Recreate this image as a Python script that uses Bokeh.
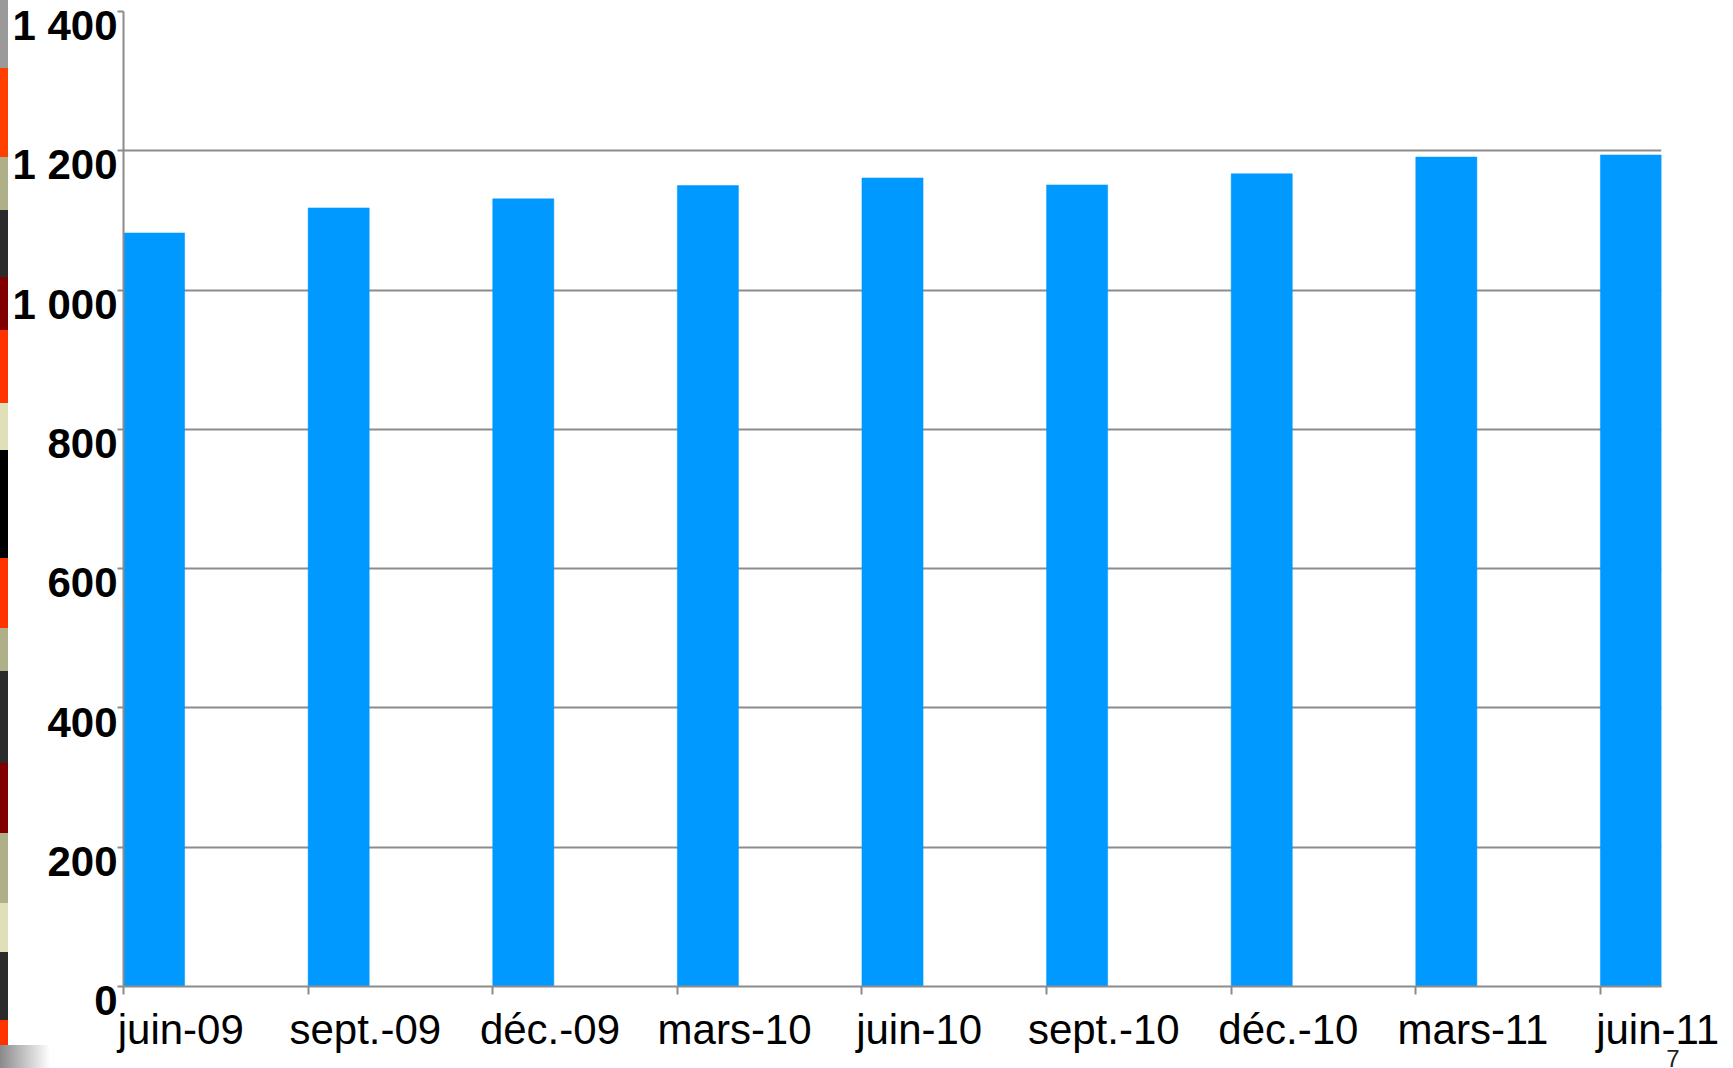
from bokeh.plotting import figure
from bokeh.models import Range1d, FixedTicker, Title
from bokeh.embed import file_html
from bokeh.resources import INLINE

# ---- data ----
categories = ["juin-09", "sept.-09", "déc.-09", "mars-10", "juin-10",
              "sept.-10", "déc.-10", "mars-11", "juin-11"]
values = [1082, 1118, 1131, 1150, 1161, 1151, 1167, 1191, 1194]
y_ticks = [0, 200, 400, 600, 800, 1000, 1200, 1400]
y_tick_labels = ["0", "200", "400", "600", "800", "1 000", "1 200", "1 400"]
page_number = "7"

# ---- layout constants ----
BW = 0.331          # bar width (category units)
LBL = 0.31          # label offset from category start
GRID = "#8c8c8c"
FONT = "Liberation Sans"
SHIFT = 50          # hidden canvas band above the page top

n = len(categories)
xs = list(range(n))

strip = ("linear-gradient(to right, #8a8a8a, #ffffff) 0px %dpx / 50px 23px no-repeat, "
         "linear-gradient(to bottom, #9a9a9a 0px, #9a9a9a 68px, #ff4000 68px, #ff4000 157px, "
         "#b0b088 157px, #b0b088 210px, #2b2b2b 210px, #2b2b2b 277px, #800000 277px, #800000 330px, "
         "#ff3300 330px, #ff3300 403px, #e0e0b8 403px, #e0e0b8 450px, #000000 450px, #000000 558px, "
         "#ff3300 558px, #ff3300 628px, #b0b088 628px, #b0b088 671px, #2b2b2b 671px, #2b2b2b 763px, "
         "#800000 763px, #800000 833px, #b0b088 833px, #b0b088 903px, #e0e0b8 903px, #e0e0b8 952px, "
         "#2b2b2b 952px, #2b2b2b 1020px, #ff3300 1020px, #ff3300 1045px) 0px %dpx / 8px 1045px no-repeat, "
         "#ffffff") % (1045 + SHIFT, SHIFT)

p = figure(width=1733, height=1068 + SHIFT, output_backend="svg", toolbar_location=None,
           x_range=Range1d(0, (n - 1) + BW), y_range=Range1d(0, 1400),
           min_border_left=123, min_border_right=72, min_border_top=11 + SHIFT, min_border_bottom=82,
           background_fill_color="white", border_fill_color=None, outline_line_color=None)
p.styles = {"background": strip, "margin-top": "-%dpx" % SHIFT}

p.vbar(x=[x + BW / 2 for x in xs], width=BW, top=values, bottom=0,
       fill_color="#0099ff", line_color="#0099ff", line_width=0.5)

# grid
p.xgrid.visible = False
p.ygrid.ticker = FixedTicker(ticks=y_ticks)
p.ygrid.grid_line_color = GRID
p.ygrid.grid_line_width = 2

# y axis: labels hang just below each tick (leading empty line pushes them down)
ya = p.yaxis[0]
ya.ticker = FixedTicker(ticks=y_ticks)
ya.major_label_overrides = {t: "\n" + s for t, s in zip(y_ticks, y_tick_labels)}
ya.major_label_text_line_height = 0.6
ya.axis_line_color = GRID
ya.axis_line_width = 2
ya.major_tick_line_color = GRID
ya.major_tick_line_width = 2
ya.major_tick_in = 0
ya.major_tick_out = 6
ya.minor_tick_line_color = None
ya.major_label_standoff = 0
ya.major_label_text_font = FONT
ya.major_label_text_font_size = "42px"
ya.major_label_text_font_style = "bold"
ya.major_label_text_color = "black"

# x axis
label_pos = [x + LBL for x in xs]
xa = p.xaxis[0]
xa.ticker = FixedTicker(ticks=label_pos, minor_ticks=xs)
xa.major_label_overrides = {t: s for t, s in zip(label_pos, categories)}
xa.axis_line_color = GRID
xa.axis_line_width = 2
xa.major_tick_line_color = None
xa.major_tick_in = 0
xa.major_tick_out = 8
xa.minor_tick_line_color = GRID
xa.minor_tick_line_width = 2
xa.minor_tick_in = 0
xa.minor_tick_out = 8
xa.major_label_standoff = 11
xa.major_label_text_font = FONT
xa.major_label_text_font_size = "42px"
xa.major_label_text_color = "black"

# slide page number, bottom right
p.add_layout(Title(text=page_number, align="right", offset=-18, standoff=-15,
                   text_font=FONT, text_font_size="24px", text_font_style="normal",
                   text_color="#222222"), "below")

open("out.html", "w").write(file_html(p, INLINE))
